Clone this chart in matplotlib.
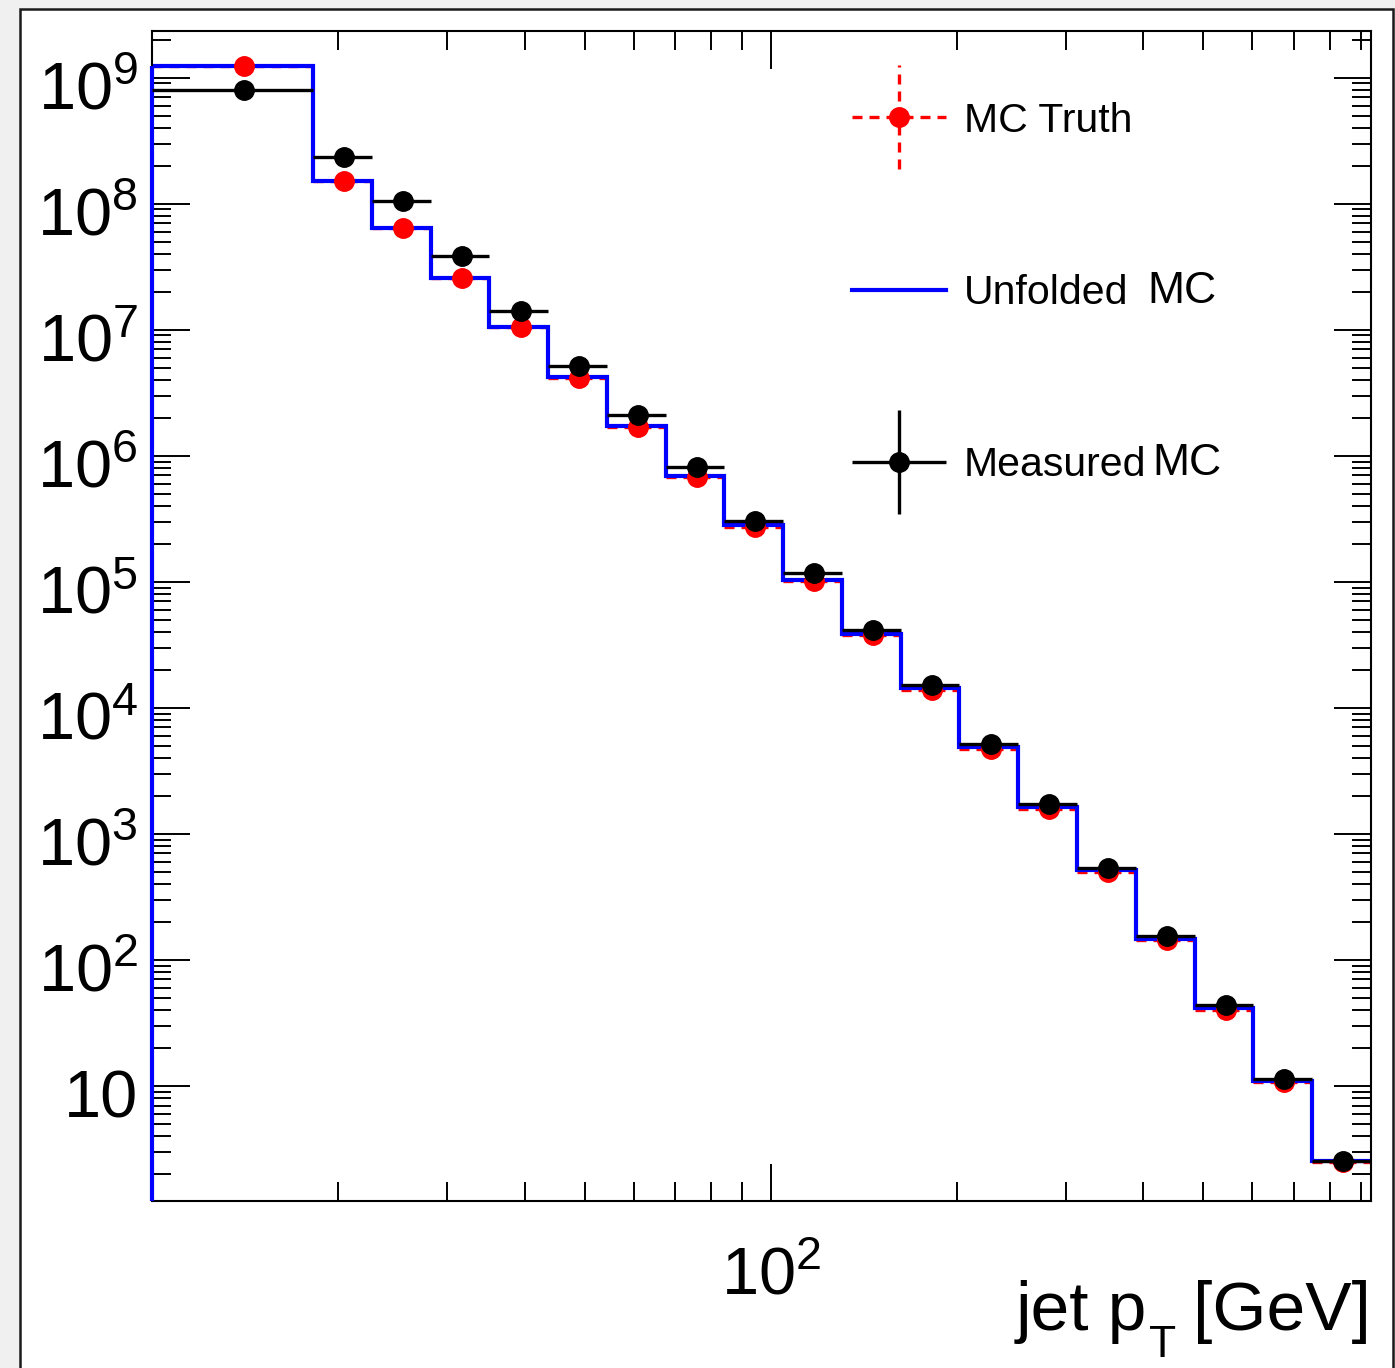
import numpy as np
import matplotlib
matplotlib.use("Agg")
import matplotlib.pyplot as plt
from matplotlib.ticker import FixedLocator, FixedFormatter, LogLocator, NullFormatter
from matplotlib.legend_handler import HandlerErrorbar
from matplotlib.container import ErrorbarContainer
from matplotlib.patches import Rectangle
from matplotlib.transforms import offset_copy

plt.rcParams['font.family'] = ['Liberation Sans', 'DejaVu Sans']
plt.rcParams['mathtext.fontset'] = 'custom'
plt.rcParams['mathtext.rm'] = 'Liberation Sans'
plt.rcParams['mathtext.it'] = 'Liberation Sans:italic'
plt.rcParams['mathtext.bf'] = 'Liberation Sans:bold'

# jet pT bin edges [GeV]
bin_edges = [10, 18.2, 22.7, 28.2, 35.1, 43.7, 54.3, 67.6, 84.1, 104.7,
             130.3, 162.2, 201.8, 251.2, 312.6, 389.0, 484.2, 602.6, 749.9, 933.3]

# counts per bin
mc_truth = [1.24e9, 1.515e8, 6.42e7, 2.58e7, 1.05e7, 4.14e6, 1.69e6, 6.79e5, 2.72e5,
            1.02e5, 3.79e4, 1.39e4, 4.72e3, 1.58e3, 499, 144, 40.1, 10.8, 2.49]
unfolded_mc = [1.24e9, 1.515e8, 6.42e7, 2.58e7, 1.05e7, 4.22e6, 1.72e6, 6.92e5, 2.83e5,
               1.03e5, 3.86e4, 1.44e4, 4.89e3, 1.64e3, 517, 147, 41.6, 10.96, 2.54]
measured_mc = [7.99e8, 2.35e8, 1.05e8, 3.85e7, 1.41e7, 5.16e6, 2.11e6, 8.15e5, 3.04e5,
               1.18e5, 4.15e4, 1.52e4, 5.17e3, 1.73e3, 537, 155, 43.9, 11.4, 2.54]

y_ticks = [1e1, 1e2, 1e3, 1e4, 1e5, 1e6, 1e7, 1e8, 1e9]
y_ticklabels = ['10', r'$10^{2}$', r'$10^{3}$', r'$10^{4}$', r'$10^{5}$',
                r'$10^{6}$', r'$10^{7}$', r'$10^{8}$', r'$10^{9}$']
x_ticks = [100]
x_ticklabels = [r'$10^{2}$']
y_range = (1.23, 2.36e9)

edges = np.array(bin_edges)
centers = 0.5 * (edges[:-1] + edges[1:])
half_width = 0.5 * np.diff(edges)
no_err = np.zeros(len(centers))

fig = plt.figure(figsize=(13.95, 13.68), dpi=100, facecolor='#f0f0f0')
# canvas frame like the ROOT window
fig.add_artist(Rectangle((0.01398, -0.05), 0.98494, 1.04306, transform=fig.transFigure,
                         facecolor='white', edgecolor='#1a1a1a', lw=1.8, zorder=-1))

ax = fig.add_axes([0.1090, 0.1223, 0.8738, 0.8553])
ax.set_xscale('log')
ax.set_yscale('log')
ax.set_xlim(edges[0], edges[-1])
ax.set_ylim(*y_range)

# unfolded histogram
steps = ax.stairs(unfolded_mc, edges, baseline=None, color='#0000ff', lw=3.0, zorder=2)
ax.vlines(edges[0], y_range[0], unfolded_mc[0], color='#0000ff', lw=3.0, zorder=3, clip_on=False)

# truth points (dashed error bars sit under the histogram)
truth = ax.errorbar(centers, mc_truth, xerr=half_width, yerr=no_err, fmt='o', color='red',
                    ms=14, mec='red', elinewidth=2.4, capsize=0, zorder=1.5)
for c in truth[2]:
    c.set_linestyle((0, (3.0, 2.1)))
truth[0].set_zorder(3)

meas = ax.errorbar(centers, measured_mc, xerr=half_width, yerr=no_err, fmt='o', color='black',
                   ms=14, mec='black', elinewidth=2.4, capsize=0, zorder=4)

# axes / ticks
ax.xaxis.set_major_locator(FixedLocator(x_ticks))
ax.xaxis.set_major_formatter(FixedFormatter(x_ticklabels))
ax.xaxis.set_minor_locator(LogLocator(base=10, subs=np.arange(2, 10), numticks=50))
ax.xaxis.set_minor_formatter(NullFormatter())
ax.yaxis.set_major_locator(FixedLocator(y_ticks))
ax.yaxis.set_minor_locator(LogLocator(base=10, subs=np.arange(2, 10), numticks=50))
ax.yaxis.set_minor_formatter(NullFormatter())

ax.tick_params(which='both', direction='in', top=True, right=True, width=1.4, labelsize=48)
ax.tick_params(which='major', length=27)
ax.tick_params(which='minor', length=13.5)
ax.tick_params(axis='y', labelleft=False)
ax.tick_params(axis='x', pad=33)
for sp in ax.spines.values():
    sp.set_linewidth(1.5)

# y labels ROOT style: baseline sits a bit below the tick
ylab_tr = offset_copy(ax.get_yaxis_transform(), fig=fig, x=-14, y=-32, units='dots')
for val, lab in zip(y_ticks, y_ticklabels):
    ax.text(0, val, lab, transform=ylab_tr, ha='right', va='baseline', fontsize=48)

# x title with a low ROOT-like subscript
gev = ax.text(1.0, -0.1106, '[GeV]', transform=ax.transAxes, ha='right', va='baseline',
              fontsize=50)
sub = ax.annotate('T', xy=(0, 0), xycoords=gev, xytext=(-12, 14), textcoords='offset points',
                  ha='right', va='top', fontsize=32)
ax.annotate('jet p', xy=(0, 0), xycoords=(sub, gev), xytext=(-1.5, 0), textcoords='offset points',
            ha='right', va='bottom', fontsize=50)

leg = ax.legend([truth, steps, meas], ['MC Truth', 'Unfolded', 'Measured'],
                loc='upper left', bbox_to_anchor=(0.5742, 0.9394), frameon=False,
                fontsize=29.5, handlelength=2.29, handletextpad=0.44, labelspacing=3.28,
                borderpad=0, borderaxespad=0, numpoints=1,
                handler_map={ErrorbarContainer: HandlerErrorbar(xerr_size=1.146, yerr_size=1.27,
                                                                numpoints=1)})
for t, gap in zip(leg.get_texts()[1:], [13.7, 4.3]):
    ax.annotate('MC', xy=(1, 0), xycoords=t, xytext=(gap, 0), textcoords='offset points',
                fontsize=32, ha='left', va='bottom', zorder=6)

fig.savefig('out.png', dpi=100, facecolor=fig.get_facecolor())
